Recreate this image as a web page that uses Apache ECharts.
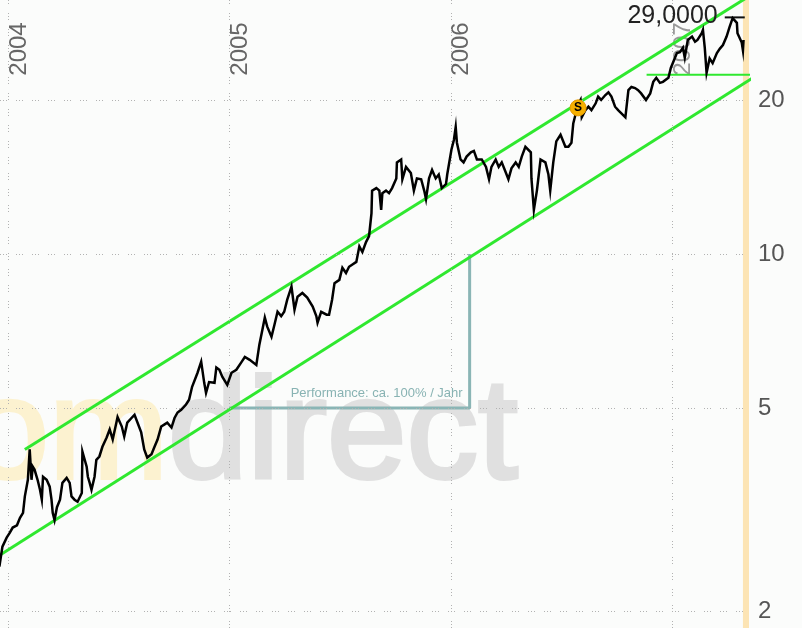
<!DOCTYPE html>
<html><head><meta charset="utf-8">
<script src="https://cdn.jsdelivr.net/npm/echarts@6/dist/echarts.min.js"></script>
<style>html,body{margin:0;padding:0;background:#fbfcfb}#c{width:802px;height:628px}</style>
</head><body><div id="c"></div>
<script>
// ---- data ----
const priceDates = [
'2003-12-18','2003-12-23','2003-12-30','2004-01-04','2004-01-09','2004-01-16','2004-01-21','2004-01-26','2004-01-29','2004-02-03',
'2004-02-06','2004-02-09','2004-02-11','2004-02-14','2004-02-19','2004-02-23','2004-02-26','2004-02-28','2004-03-05','2004-03-10',
'2004-03-13','2004-03-15','2004-03-18','2004-03-22','2004-03-27','2004-03-31','2004-04-07','2004-04-12','2004-04-15','2004-04-20',
'2004-04-25','2004-05-02','2004-05-03','2004-05-10','2004-05-12','2004-05-15','2004-05-18','2004-05-23','2004-05-26','2004-05-31',
'2004-06-05','2004-06-12','2004-06-17','2004-06-22','2004-06-28','2004-06-30','2004-07-07','2004-07-11','2004-07-16','2004-07-23',
'2004-07-28','2004-08-02','2004-08-08','2004-08-13','2004-08-18','2004-08-25','2004-08-30','2004-09-04','2004-09-10','2004-09-15',
'2004-09-20','2004-09-27','2004-10-02','2004-10-07','2004-10-13','2004-10-21','2004-10-26','2004-10-31','2004-11-09','2004-11-15',
'2004-11-20','2004-11-23','2004-11-28','2004-12-07','2004-12-10','2004-12-15','2004-12-20','2004-12-28','2005-01-04','2005-01-12',
'2005-01-21','2005-01-26','2005-02-03','2005-02-14','2005-02-19','2005-02-24','2005-02-28','2005-03-04','2005-03-11','2005-03-16',
'2005-03-21','2005-03-27','2005-04-01','2005-04-06','2005-04-13','2005-04-18','2005-04-23','2005-05-01','2005-05-09','2005-05-18',
'2005-05-24','2005-05-26','2005-06-01','2005-06-10','2005-06-14','2005-06-19','2005-06-23','2005-07-01','2005-07-06','2005-07-12',
'2005-07-17','2005-07-22','2005-07-29','2005-08-03','2005-08-08','2005-08-14','2005-08-19','2005-08-23','2005-08-24','2005-08-31',
'2005-09-05','2005-09-08','2005-09-10','2005-09-16','2005-09-21','2005-09-26','2005-10-03','2005-10-04','2005-10-11','2005-10-13',
'2005-10-19','2005-10-27','2005-11-01','2005-11-06','2005-11-13','2005-11-18','2005-11-21','2005-11-26','2005-12-01','2005-12-07',
'2005-12-12','2005-12-17','2005-12-24','2005-12-26','2006-01-02','2006-01-06','2006-01-09','2006-01-11','2006-01-17','2006-01-22',
'2006-01-27','2006-02-03','2006-02-08','2006-02-13','2006-02-21','2006-02-28','2006-03-05','2006-03-09','2006-03-16','2006-03-21',
'2006-03-26','2006-04-01','2006-04-06','2006-04-11','2006-04-18','2006-04-23','2006-04-28','2006-05-04','2006-05-06','2006-05-13',
'2006-05-14','2006-05-18','2006-05-23','2006-05-29','2006-06-06','2006-06-11','2006-06-14','2006-06-19','2006-06-24','2006-07-01',
'2006-07-09','2006-07-14','2006-07-19','2006-07-22','2006-07-26','2006-07-31','2006-08-03','2006-08-05','2006-08-11','2006-08-16',
'2006-08-21','2006-08-28','2006-09-01','2006-09-06','2006-09-13','2006-09-18','2006-09-23','2006-09-29','2006-10-04','2006-10-09',
'2006-10-16','2006-10-21','2006-10-26','2006-11-01','2006-11-06','2006-11-11','2006-11-19','2006-11-26','2006-12-01','2006-12-06',
'2006-12-12','2006-12-17','2006-12-26','2006-12-30','2007-01-06','2007-01-09','2007-01-14','2007-01-19','2007-01-22','2007-01-27',
'2007-02-03','2007-02-08','2007-02-12','2007-02-19','2007-02-21','2007-02-24','2007-02-27','2007-03-04','2007-03-09','2007-03-16',
'2007-03-21','2007-03-26','2007-04-01','2007-04-06','2007-04-11','2007-04-18','2007-04-19','2007-04-26','2007-04-28','2007-04-29'
];
const priceValues = [
2.45,2.68,2.79,2.85,2.92,2.95,3.05,3.12,3.36,3.62,
4.15,3.62,3.84,3.79,3.62,3.46,3.31,3.67,3.62,3.51,
3.31,3.12,3.02,3.20,3.31,3.57,3.65,3.57,3.36,3.31,
3.28,3.41,4.11,3.84,3.67,3.57,3.46,3.67,3.96,4.02,
4.20,4.38,4.54,4.34,4.68,4.80,4.60,4.40,4.68,4.78,
4.85,4.68,4.48,4.15,4.00,4.06,4.20,4.34,4.60,4.64,
4.68,4.58,4.78,4.90,4.96,5.08,5.19,5.50,5.86,6.16,
5.60,5.35,5.62,5.60,6.00,5.94,5.75,5.55,5.86,5.94,
6.16,6.29,6.21,6.07,6.65,7.11,7.51,7.21,6.89,7.28,
7.71,7.56,7.71,8.14,8.63,7.78,8.25,8.39,8.22,7.89,
7.56,7.34,7.71,7.61,7.61,8.14,8.77,8.90,9.40,9.18,
9.44,9.53,9.65,10.35,10.09,10.55,10.84,12.0,13.3,13.45,
13.3,12.2,13.15,13.3,13.15,13.45,14.05,15.1,15.3,14.0,
14.8,14.4,13.3,14.05,14.0,13.3,12.8,14.05,14.6,14.05,
14.3,13.45,13.7,14.3,16.0,16.7,17.7,16.5,15.3,15.1,
15.5,15.8,15.9,15.3,15.3,14.8,14.0,14.8,15.3,14.8,
15.1,14.5,14.0,14.7,15.1,14.8,15.5,16.2,16.3,15.8,
14.05,12.2,13.3,15.3,15.1,14.3,13.3,15.1,16.6,17.1,
16.2,16.2,16.5,18.0,18.8,19.7,20.0,18.5,19.1,19.4,
19.1,19.7,20.3,20.0,20.45,20.7,20.3,19.4,19.1,18.85,
18.5,20.9,21.2,21.1,20.9,20.6,20.0,20.6,21.7,22.1,
21.6,21.7,22.1,23.1,24.2,24.7,24.8,25.3,24.2,26.2,
26.6,26.0,26.2,27.0,27.4,25.3,22.6,24.1,23.6,24.7,
25.2,25.6,26.6,27.8,28.9,28.3,27.0,25.9,25.0,26.2
];
const yearTicks = ['2004-01-01','2005-01-01','2006-01-01','2007-01-01'];
const yearLabels = ['2004','2005','2006','2007'];
const valueTicks = [2, 5, 10, 20];
const valueLabels = ['2', '5', '10', '20'];
const upperChannelDates = ['2004-01-29','2007-08-03'];
const upperChannelValues = [4.15, 37.0];
const lowerChannelDates = ['2003-12-19','2007-08-03'];
const lowerChannelValues = [2.58, 25.4];
const supportDates = ['2006-11-20','2007-08-03'];
const supportValues = [22.4, 22.4];
const highDates = ['2007-03-29','2007-05-01'];
const highValues = [29, 29];
const highLabel = '29,0000';
const perfDates = ['2004-12-31','2006-02-01','2006-02-01'];
const perfValues = [5.0, 5.0, 10.0];
const perfLabel = 'Performance: ca. 100% / Jahr';
const signalDate = '2006-07-30', signalValue = 19.3, signalLabel = 'S';
const todayBand = ['2007-04-28','2007-05-08'];
const xRange = ['2003-12-19','2007-05-08'];
const yRange = [1.858, 31.36];
const watermarkA = 'com', watermarkB = 'direct';

// ---- helpers ----
const t = s => { const p = s.split('-'); return new Date(+p[0], +p[1]-1, +p[2]).getTime(); };
const pairs = (ds, vs) => ds.map((d,i) => [t(d), vs[i]]);
const FONT = '"Liberation Sans", Arial, sans-serif';
const gridDash = [1,2,1,2,1,9];

const chart = echarts.init(document.getElementById('c'), null, {renderer:'canvas'});
const option = {
  animation: false,
  backgroundColor: '#fbfcfb',
  grid: {left: 0, right: 53, top: 0, bottom: 0, containLabel: false},
  xAxis: {type:'time', min: t(xRange[0]), max: t(xRange[1]), show: false, splitLine:{show:false}},
  yAxis: {type:'log', logBase: 10, min: yRange[0], max: yRange[1], show: false, splitLine:{show:false}},
  series: [
    {
      name:'grid', type:'line', data: [], z: 1, silent: true,
      markLine: {
        silent: true, symbol: ['none','none'], animation: false,
        label: {show:false},
        lineStyle: {color:'#b2b2b2', width:1, type: gridDash},
        data: yearTicks.map(d => ({xAxis: t(d)})).concat(valueTicks.map(v => ({yAxis: v})))
      },
      markArea: {
        silent: true,
        itemStyle: {color:'#fce4b4'},
        data: [[{xAxis: t(todayBand[0])}, {xAxis: t(todayBand[1])}]]
      }
    },
    {
      name:'perf', type:'line', data: pairs(perfDates, perfValues), z: 3, showSymbol:false, silent:true,
      lineStyle:{color:'#8ab5b5', width:3}, clip:false
    },
    {
      name:'upper', type:'line', data: pairs(upperChannelDates, upperChannelValues), z: 4, showSymbol:false,
      lineStyle:{color:'#2fe82f', width:3}, clip:false, silent:true
    },
    {
      name:'lower', type:'line', data: pairs(lowerChannelDates, lowerChannelValues), z: 4, showSymbol:false,
      lineStyle:{color:'#2fe82f', width:3}, clip:false, silent:true
    },
    {
      name:'support', type:'line', data: pairs(supportDates, supportValues), z: 4, showSymbol:false,
      lineStyle:{color:'#2fe82f', width:2}, clip:false, silent:true
    },
    {
      name:'high', type:'line', data: pairs(highDates, highValues), z: 5, showSymbol:false,
      lineStyle:{color:'#111', width:2}, clip:false, silent:true
    },
    {
      name:'price', type:'line', data: pairs(priceDates, priceValues), z: 5, showSymbol:false,
      lineStyle:{color:'#000', width:2.5, join:'miter'}, silent:true,
      markPoint: {
        silent: true, z: 6,
        symbol:'circle', symbolSize: 16,
        itemStyle:{color:'#f6b000', borderColor:'#e69a00', borderWidth:1},
        label:{show:true, formatter: signalLabel, color:'#000', fontWeight:'bold', fontSize:12, fontFamily: FONT},
        data: [{coord: [t(signalDate), signalValue]}]
      }
    }
  ]
};
chart.setOption(option);

// ---- text annotations placed through the chart's scales ----
const px = (d, v) => chart.convertToPixel({gridIndex:0}, [t(d), v]);
const gfx = [];
gfx.push({
  type:'text', z:-10, silent:true,
  style:{
    x: px(yearTicks[0], valueTicks[1])[0] - 110, y: px(yearTicks[0], 4.35)[1],
    text: '{a|' + watermarkA + '}{b|' + watermarkB + '}',
    verticalAlign:'middle', align:'left',
    rich: {
      a: {fontSize:143, fontFamily: FONT, fill:'#fcf2d0', stroke:'#fcf2d0', lineWidth:4},
      b: {fontSize:143, fontFamily: FONT, fill:'#e0e0e0', stroke:'#e0e0e0', lineWidth:4}
    }
  }
});
yearTicks.forEach((d,i) => {
  const p = px(d, 10);
  gfx.push({type:'text', z:1, silent:true, x: p[0] + 11, y: 49, rotation: Math.PI/2,
    style:{text: yearLabels[i], fontSize:24, fontFamily: FONT, fill: i===3 ? '#9a9a9a' : '#666', align:'center', verticalAlign:'middle'}});
});
valueTicks.forEach((v,i) => {
  const p = px(xRange[1], v);
  gfx.push({type:'text', z:1, silent:true, style:{x: p[0] + 9, y: p[1], text: valueLabels[i], fontSize:24, fontFamily: FONT, fill:'#555', align:'left', verticalAlign:'middle'}});
});
{
  const p = px(highDates[0], highValues[0]);
  gfx.push({type:'text', z:10, silent:true, style:{x: p[0] - 7, y: p[1] - 1, text: highLabel, fontSize:25, fontFamily: FONT, fill:'#222', align:'right', verticalAlign:'middle'}});
}
{
  const p = px(perfDates[1], perfValues[1]);
  gfx.push({type:'text', z:10, silent:true, style:{x: p[0] - 7, y: p[1] - 15, text: perfLabel, fontSize:13, fontFamily: FONT, fill:'#88b3b3', align:'right', verticalAlign:'middle'}});
}
chart.setOption({graphic: {elements: gfx}});
</script>
</body></html>
